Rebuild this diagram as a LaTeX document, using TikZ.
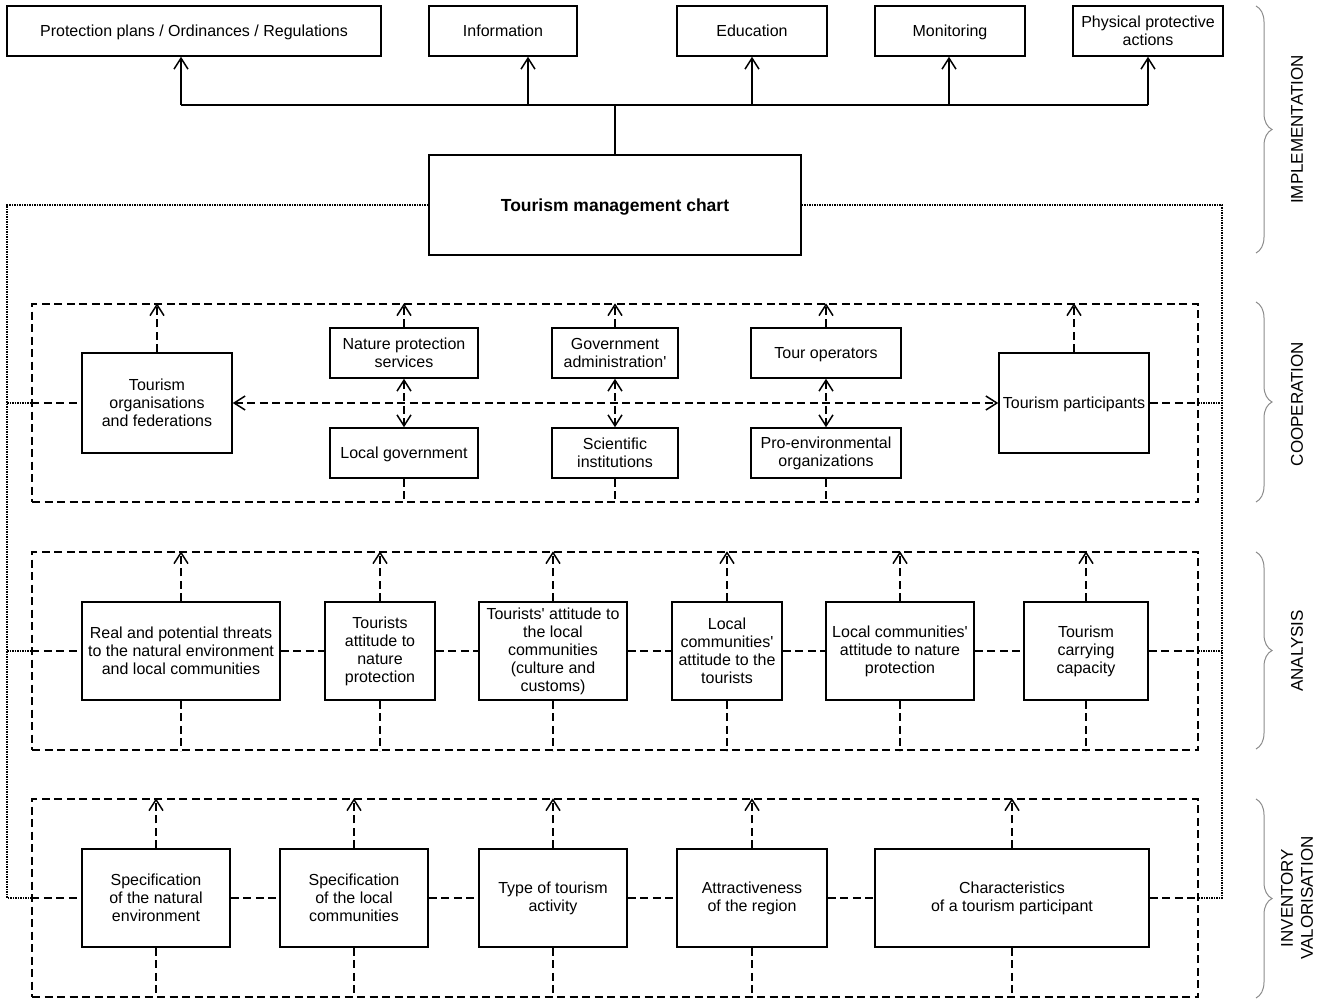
\documentclass[tikz,border=0pt]{standalone}
\usepackage{fontspec}
\setmainfont{Liberation Sans}[Ligatures=TeXOff]
\usetikzlibrary{arrows.meta,decorations.pathreplacing}
\begin{document}
\begin{tikzpicture}[x=1pt,y=-1pt,
 box/.style={draw,line width=1.5pt,inner sep=0pt,align=center,font=\fontsize{16}{18}\selectfont},
 one/.style={text depth=0pt},
 wh/.style 2 args={minimum width=#1pt,minimum height=#2pt},
 frame/.style={draw,line width=1.5pt,dash pattern=on 8pt off 4.5pt,inner sep=0pt},
 dl/.style={line width=1.5pt,dash pattern=on 8pt off 4.5pt},
 sl/.style={line width=1.5pt},
 dotl/.style={line width=1.5pt,dash pattern=on 1.5pt off 1pt},
 tip/.style={-{Straight Barb[length=11pt,width=14pt]}},
 dtip/.style={{Straight Barb[length=11pt,width=14pt]}-{Straight Barb[length=11pt,width=14pt]}},
 sidebrace/.style={draw=black!45,line width=1pt,decorate,decoration={brace,amplitude=16pt}},
 sidelabel/.style={rotate=90,align=center,font=\fontsize{17}{20}\selectfont}
]
\useasboundingbox (0,0) rectangle (1325,1006);

% ---------- implementation ----------
\node[box,one,wh={374}{50}] (p1) at (194,31) {Protection plans / Ordinances / Regulations};
\node[box,one,wh={148}{50}] (p2) at (503,31) {Information};
\node[box,one,wh={150}{50}] (p3) at (752,31) {Education};
\node[box,one,wh={150}{50}] (p4) at (950,31) {Monitoring};
\node[box,wh={150}{50}] (p5) at (1148,31) {Physical protective\\actions};

\node[box,one,wh={372}{100},font=\fontsize{17.5}{20}\selectfont\bfseries] (chart) at (615,205) {Tourism management chart};

\coordinate (b1) at (181,105);
\coordinate (b2) at (528,105);
\coordinate (b3) at (752,105);
\coordinate (b4) at (949,105);
\coordinate (b5) at (1148,105);
\draw[sl] (b1) -- (b5);
\draw[sl] (chart.north) -- (chart.north |- b1);
\foreach \i in {1,...,5} {\draw[sl,tip] (b\i) -- (b\i |- p\i.south);}

% ---------- frames ----------
\node[frame,wh={1166}{198}] (fc) at (615,403) {};
\node[frame,wh={1166}{198}] (fa) at (615,651) {};
\node[frame,wh={1166}{198}] (fi) at (615,898) {};

% ---------- dotted feedback ----------
\coordinate (L) at (7,0);
\coordinate (R) at (1222,0);
\draw[dotl] (chart.west) -- (chart.west -| L) -- (fi.west -| L) -- (fi.west);
\draw[dotl] (fc.west -| L) -- (fc.west);
\draw[dotl] (fa.west -| L) -- (fa.west);
\draw[dotl] (chart.east) -- (chart.east -| R) -- (fi.east -| R) -- (fi.east);
\draw[dotl] (fc.east -| R) -- (fc.east);
\draw[dotl] (fa.east -| R) -- (fa.east);

% ---------- cooperation ----------
\node[box,wh={150}{100}] (org) at (157,403) {Tourism\\organisations\\and federations};
\node[box,wh={148}{50}] (nps) at (404,353) {Nature protection\\services};
\node[box,one,wh={148}{50}] (lg) at (404,453) {Local government};
\node[box,wh={126}{50}] (ga) at (615,353) {Government\\administration'};
\node[box,wh={126}{50}] (si) at (615,453) {Scientific\\institutions};
\node[box,one,wh={150}{50}] (to) at (826,353) {Tour operators};
\node[box,wh={150}{50}] (peo) at (826,453) {Pro-environmental\\organizations};
\node[box,one,wh={150}{100}] (part) at (1074,403) {Tourism participants};

\foreach \n in {org,nps,ga,to,part} {\draw[dl,tip] (\n.north) -- (\n.north |- fc.north);}
\foreach \n in {lg,si,peo} {\draw[dl] (\n.south) -- (\n.south |- fc.south);}
\draw[dl,dtip] (nps.south) -- (lg.north);
\draw[dl,dtip] (ga.south) -- (si.north);
\draw[dl,dtip] (to.south) -- (peo.north);
\draw[dl] (fc.west) -- (org.west);
\draw[dl,dtip] (org.east) -- (part.west);
\draw[dl] (part.east) -- (fc.east);

% ---------- analysis ----------
\node[box,wh={198}{98}] (a1) at (181,651) {Real and potential threats\\to the natural environment\\and local communities};
\node[box,wh={110}{98}] (a2) at (380,651) {Tourists\\attitude to\\nature\\protection};
\node[box,wh={148}{98}] (a3) at (553,651) {Tourists' attitude to\\the local\\communities\\(culture and\\customs)};
\node[box,wh={110}{98}] (a4) at (727,651) {Local\\communities'\\attitude to the\\tourists};
\node[box,wh={148}{98}] (a5) at (900,651) {Local communities'\\attitude to nature\\protection};
\node[box,wh={124}{98}] (a6) at (1086,651) {Tourism\\carrying\\capacity};

\foreach \n in {a1,a2,a3,a4,a5,a6} {
  \draw[dl,tip] (\n.north) -- (\n.north |- fa.north);
  \draw[dl] (\n.south) -- (\n.south |- fa.south);
}
\draw[dl] (fa.west) -- (a1.west);
\draw[dl] (a1.east) -- (a2.west);
\draw[dl] (a2.east) -- (a3.west);
\draw[dl] (a3.east) -- (a4.west);
\draw[dl] (a4.east) -- (a5.west);
\draw[dl] (a5.east) -- (a6.west);
\draw[dl] (a6.east) -- (fa.east);

% ---------- inventory ----------
\node[box,wh={148}{98}] (i1) at (156,898) {Specification\\of the natural\\environment};
\node[box,wh={148}{98}] (i2) at (354,898) {Specification\\of the local\\communities};
\node[box,wh={148}{98}] (i3) at (553,898) {Type of tourism\\activity};
\node[box,wh={150}{98}] (i4) at (752,898) {Attractiveness\\of the region};
\node[box,wh={274}{98}] (i5) at (1012,898) {Characteristics\\of a tourism participant};

\foreach \n in {i1,i2,i3,i4,i5} {
  \draw[dl,tip] (\n.north) -- (\n.north |- fi.north);
  \draw[dl] (\n.south) -- (\n.south |- fi.south);
}
\draw[dl] (fi.west) -- (i1.west);
\draw[dl] (i1.east) -- (i2.west);
\draw[dl] (i2.east) -- (i3.west);
\draw[dl] (i3.east) -- (i4.west);
\draw[dl] (i4.east) -- (i5.west);
\draw[dl] (i5.east) -- (fi.east);

% ---------- braces and side labels ----------
\draw[sidebrace] (1256,6) -- (1256,253);
\draw[sidebrace] (1256,302) -- (1256,502);
\draw[sidebrace] (1256,552) -- (1256,749);
\draw[sidebrace] (1256,799) -- (1256,998);
\node[sidelabel] (lab1) at (1297,129.5) {IMPLEMENTATION};
\node[sidelabel] (lab2) at (1297,404) {COOPERATION};
\node[sidelabel] (lab3) at (1297,651) {ANALYSIS};
\node[sidelabel] (lab4) at (1297,898) {INVENTORY\\VALORISATION};
\end{tikzpicture}
\end{document}
